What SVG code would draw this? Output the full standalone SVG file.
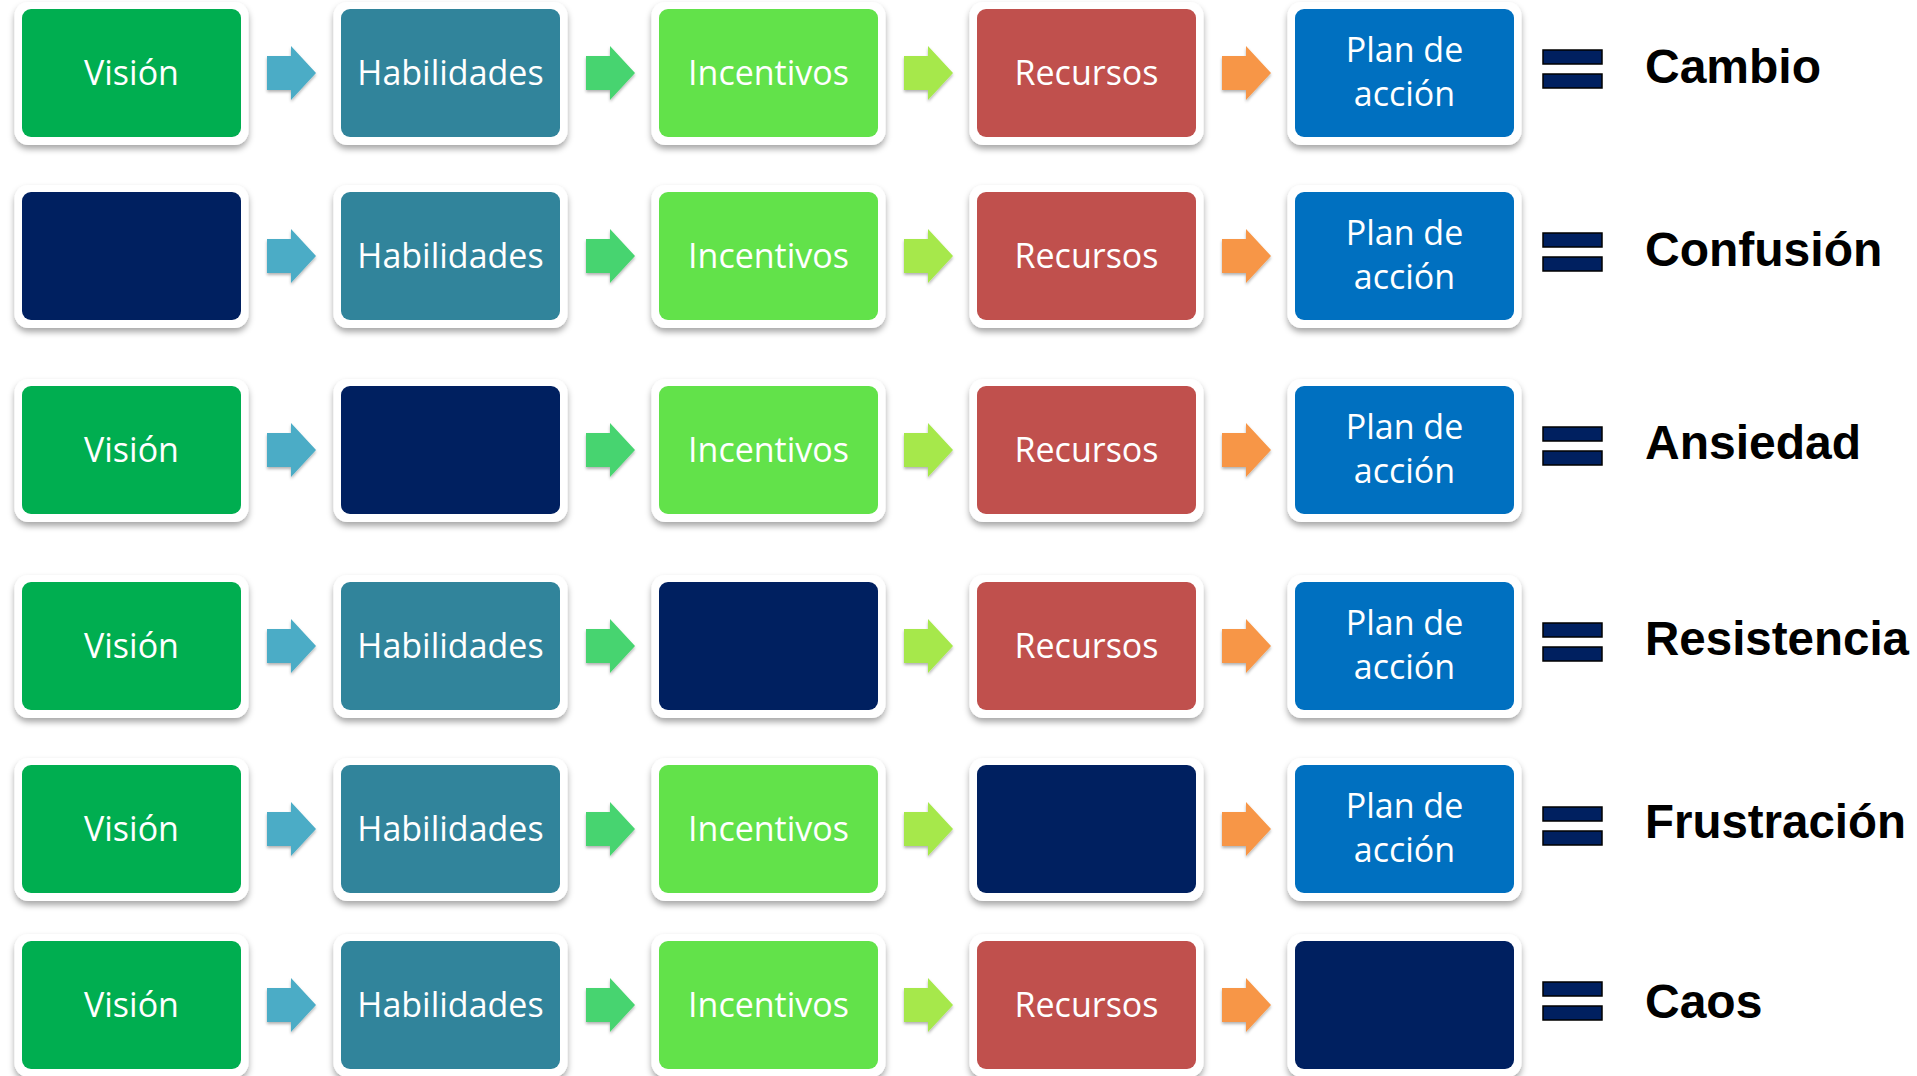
<svg xmlns="http://www.w3.org/2000/svg" xmlns:xlink="http://www.w3.org/1999/xlink" width="1917" height="1076" viewBox="0 0 1917 1076">
<style>
.frame{fill:#ffffff;filter:url(#sh)}
.vis{fill:#00AE50}
.hab{fill:#31849B}
.inc{fill:#62E24A}
.rec{fill:#C0504D}
.plan{fill:#0070C0}
.blank{fill:#002060}
.bt{font-family:"Open Sans","Noto Sans",sans-serif;font-size:34px;fill:#ffffff;text-anchor:middle}
.lbl{font-family:"Liberation Sans",Arial,sans-serif;font-weight:bold;font-size:48px;fill:#000000}
.eq{fill:#002060;stroke:#000000;stroke-width:1.5}
.a1{fill:#4BACC6}
.a2{fill:#47D46F}
.a3{fill:#A6E84B}
.a4{fill:#F79646}
.arr{filter:url(#ash)}
</style>
<defs>
<filter id="sh" x="-10%" y="-10%" width="120%" height="130%">
<feDropShadow dx="0" dy="4" stdDeviation="3" flood-color="#000000" flood-opacity="0.35"/>
</filter>
<filter id="ash" x="-20%" y="-20%" width="140%" height="150%">
<feDropShadow dx="0" dy="2" stdDeviation="1.5" flood-color="#000000" flood-opacity="0.3"/>
</filter>
<path id="arrow" d="M0,-17 H24 V-27 L49,0 L24,27 V17 H0 Z"/>
</defs>
<rect width="1917" height="1076" fill="#ffffff"/>

<g id="connectors">
<use href="#arrow" x="267" y="73" class="a1 arr"/>
<use href="#arrow" x="586" y="73" class="a2 arr"/>
<use href="#arrow" x="904" y="73" class="a3 arr"/>
<use href="#arrow" x="1222" y="73" class="a4 arr"/>
<use href="#arrow" x="267" y="256" class="a1 arr"/>
<use href="#arrow" x="586" y="256" class="a2 arr"/>
<use href="#arrow" x="904" y="256" class="a3 arr"/>
<use href="#arrow" x="1222" y="256" class="a4 arr"/>
<use href="#arrow" x="267" y="450" class="a1 arr"/>
<use href="#arrow" x="586" y="450" class="a2 arr"/>
<use href="#arrow" x="904" y="450" class="a3 arr"/>
<use href="#arrow" x="1222" y="450" class="a4 arr"/>
<use href="#arrow" x="267" y="646" class="a1 arr"/>
<use href="#arrow" x="586" y="646" class="a2 arr"/>
<use href="#arrow" x="904" y="646" class="a3 arr"/>
<use href="#arrow" x="1222" y="646" class="a4 arr"/>
<use href="#arrow" x="267" y="829" class="a1 arr"/>
<use href="#arrow" x="586" y="829" class="a2 arr"/>
<use href="#arrow" x="904" y="829" class="a3 arr"/>
<use href="#arrow" x="1222" y="829" class="a4 arr"/>
<use href="#arrow" x="267" y="1005" class="a1 arr"/>
<use href="#arrow" x="586" y="1005" class="a2 arr"/>
<use href="#arrow" x="904" y="1005" class="a3 arr"/>
<use href="#arrow" x="1222" y="1005" class="a4 arr"/>
</g>

<!-- Row 1 -->
<g id="r1-vision" transform="translate(22,9)"><rect class="frame" x="-7.5" y="-7" width="234" height="143" rx="14"/><rect class="vis" width="219" height="128" rx="9"/><text class="bt" x="109.5" y="76">Visión</text></g>
<g id="r1-habilidades" transform="translate(341,9)"><rect class="frame" x="-7.5" y="-7" width="234" height="143" rx="14"/><rect class="hab" width="219" height="128" rx="9"/><text class="bt" x="109.5" y="76">Habilidades</text></g>
<g id="r1-incentivos" transform="translate(659,9)"><rect class="frame" x="-7.5" y="-7" width="234" height="143" rx="14"/><rect class="inc" width="219" height="128" rx="9"/><text class="bt" x="109.5" y="76">Incentivos</text></g>
<g id="r1-recursos" transform="translate(977,9)"><rect class="frame" x="-7.5" y="-7" width="234" height="143" rx="14"/><rect class="rec" width="219" height="128" rx="9"/><text class="bt" x="109.5" y="76">Recursos</text></g>
<g id="r1-plan" transform="translate(1295,9)"><rect class="frame" x="-7.5" y="-7" width="234" height="143" rx="14"/><rect class="plan" width="219" height="128" rx="9"/><text class="bt" x="109.5" y="53">Plan de</text><text class="bt" x="109.5" y="97">acción</text></g>
<g id="r1-result" transform="translate(0,9)"><rect class="eq" x="1543" y="41" width="59" height="14"/><rect class="eq" x="1543" y="65" width="59" height="14"/><text class="lbl" x="1645" y="74">Cambio</text></g>

<!-- Row 2 -->
<g id="r2-vision" transform="translate(22,192)"><rect class="frame" x="-7.5" y="-7" width="234" height="143" rx="14"/><rect class="blank" width="219" height="128" rx="9"/></g>
<g id="r2-habilidades" transform="translate(341,192)"><rect class="frame" x="-7.5" y="-7" width="234" height="143" rx="14"/><rect class="hab" width="219" height="128" rx="9"/><text class="bt" x="109.5" y="76">Habilidades</text></g>
<g id="r2-incentivos" transform="translate(659,192)"><rect class="frame" x="-7.5" y="-7" width="234" height="143" rx="14"/><rect class="inc" width="219" height="128" rx="9"/><text class="bt" x="109.5" y="76">Incentivos</text></g>
<g id="r2-recursos" transform="translate(977,192)"><rect class="frame" x="-7.5" y="-7" width="234" height="143" rx="14"/><rect class="rec" width="219" height="128" rx="9"/><text class="bt" x="109.5" y="76">Recursos</text></g>
<g id="r2-plan" transform="translate(1295,192)"><rect class="frame" x="-7.5" y="-7" width="234" height="143" rx="14"/><rect class="plan" width="219" height="128" rx="9"/><text class="bt" x="109.5" y="53">Plan de</text><text class="bt" x="109.5" y="97">acción</text></g>
<g id="r2-result" transform="translate(0,192)"><rect class="eq" x="1543" y="41" width="59" height="14"/><rect class="eq" x="1543" y="65" width="59" height="14"/><text class="lbl" x="1645" y="74">Confusión</text></g>

<!-- Row 3 -->
<g id="r3-vision" transform="translate(22,386)"><rect class="frame" x="-7.5" y="-7" width="234" height="143" rx="14"/><rect class="vis" width="219" height="128" rx="9"/><text class="bt" x="109.5" y="76">Visión</text></g>
<g id="r3-habilidades" transform="translate(341,386)"><rect class="frame" x="-7.5" y="-7" width="234" height="143" rx="14"/><rect class="blank" width="219" height="128" rx="9"/></g>
<g id="r3-incentivos" transform="translate(659,386)"><rect class="frame" x="-7.5" y="-7" width="234" height="143" rx="14"/><rect class="inc" width="219" height="128" rx="9"/><text class="bt" x="109.5" y="76">Incentivos</text></g>
<g id="r3-recursos" transform="translate(977,386)"><rect class="frame" x="-7.5" y="-7" width="234" height="143" rx="14"/><rect class="rec" width="219" height="128" rx="9"/><text class="bt" x="109.5" y="76">Recursos</text></g>
<g id="r3-plan" transform="translate(1295,386)"><rect class="frame" x="-7.5" y="-7" width="234" height="143" rx="14"/><rect class="plan" width="219" height="128" rx="9"/><text class="bt" x="109.5" y="53">Plan de</text><text class="bt" x="109.5" y="97">acción</text></g>
<g id="r3-result" transform="translate(0,386)"><rect class="eq" x="1543" y="41" width="59" height="14"/><rect class="eq" x="1543" y="65" width="59" height="14"/><text class="lbl" x="1645" y="73">Ansiedad</text></g>

<!-- Row 4 -->
<g id="r4-vision" transform="translate(22,582)"><rect class="frame" x="-7.5" y="-7" width="234" height="143" rx="14"/><rect class="vis" width="219" height="128" rx="9"/><text class="bt" x="109.5" y="76">Visión</text></g>
<g id="r4-habilidades" transform="translate(341,582)"><rect class="frame" x="-7.5" y="-7" width="234" height="143" rx="14"/><rect class="hab" width="219" height="128" rx="9"/><text class="bt" x="109.5" y="76">Habilidades</text></g>
<g id="r4-incentivos" transform="translate(659,582)"><rect class="frame" x="-7.5" y="-7" width="234" height="143" rx="14"/><rect class="blank" width="219" height="128" rx="9"/></g>
<g id="r4-recursos" transform="translate(977,582)"><rect class="frame" x="-7.5" y="-7" width="234" height="143" rx="14"/><rect class="rec" width="219" height="128" rx="9"/><text class="bt" x="109.5" y="76">Recursos</text></g>
<g id="r4-plan" transform="translate(1295,582)"><rect class="frame" x="-7.5" y="-7" width="234" height="143" rx="14"/><rect class="plan" width="219" height="128" rx="9"/><text class="bt" x="109.5" y="53">Plan de</text><text class="bt" x="109.5" y="97">acción</text></g>
<g id="r4-result" transform="translate(0,582)"><rect class="eq" x="1543" y="41" width="59" height="14"/><rect class="eq" x="1543" y="65" width="59" height="14"/><text class="lbl" x="1645" y="73" textLength="264" lengthAdjust="spacingAndGlyphs">Resistencia</text></g>

<!-- Row 5 -->
<g id="r5-vision" transform="translate(22,765)"><rect class="frame" x="-7.5" y="-7" width="234" height="143" rx="14"/><rect class="vis" width="219" height="128" rx="9"/><text class="bt" x="109.5" y="76">Visión</text></g>
<g id="r5-habilidades" transform="translate(341,765)"><rect class="frame" x="-7.5" y="-7" width="234" height="143" rx="14"/><rect class="hab" width="219" height="128" rx="9"/><text class="bt" x="109.5" y="76">Habilidades</text></g>
<g id="r5-incentivos" transform="translate(659,765)"><rect class="frame" x="-7.5" y="-7" width="234" height="143" rx="14"/><rect class="inc" width="219" height="128" rx="9"/><text class="bt" x="109.5" y="76">Incentivos</text></g>
<g id="r5-recursos" transform="translate(977,765)"><rect class="frame" x="-7.5" y="-7" width="234" height="143" rx="14"/><rect class="blank" width="219" height="128" rx="9"/></g>
<g id="r5-plan" transform="translate(1295,765)"><rect class="frame" x="-7.5" y="-7" width="234" height="143" rx="14"/><rect class="plan" width="219" height="128" rx="9"/><text class="bt" x="109.5" y="53">Plan de</text><text class="bt" x="109.5" y="97">acción</text></g>
<g id="r5-result" transform="translate(0,765)"><rect class="eq" x="1543" y="42" width="59" height="14"/><rect class="eq" x="1543" y="66" width="59" height="14"/><text class="lbl" x="1645" y="73" textLength="261" lengthAdjust="spacingAndGlyphs">Frustración</text></g>

<!-- Row 6 -->
<g id="r6-vision" transform="translate(22,941)"><rect class="frame" x="-7.5" y="-7" width="234" height="143" rx="14"/><rect class="vis" width="219" height="128" rx="9"/><text class="bt" x="109.5" y="76">Visión</text></g>
<g id="r6-habilidades" transform="translate(341,941)"><rect class="frame" x="-7.5" y="-7" width="234" height="143" rx="14"/><rect class="hab" width="219" height="128" rx="9"/><text class="bt" x="109.5" y="76">Habilidades</text></g>
<g id="r6-incentivos" transform="translate(659,941)"><rect class="frame" x="-7.5" y="-7" width="234" height="143" rx="14"/><rect class="inc" width="219" height="128" rx="9"/><text class="bt" x="109.5" y="76">Incentivos</text></g>
<g id="r6-recursos" transform="translate(977,941)"><rect class="frame" x="-7.5" y="-7" width="234" height="143" rx="14"/><rect class="rec" width="219" height="128" rx="9"/><text class="bt" x="109.5" y="76">Recursos</text></g>
<g id="r6-plan" transform="translate(1295,941)"><rect class="frame" x="-7.5" y="-7" width="234" height="143" rx="14"/><rect class="blank" width="219" height="128" rx="9"/></g>
<g id="r6-result" transform="translate(0,941)"><rect class="eq" x="1543" y="41" width="59" height="14"/><rect class="eq" x="1543" y="65" width="59" height="14"/><text class="lbl" x="1645" y="77">Caos</text></g>
</svg>
